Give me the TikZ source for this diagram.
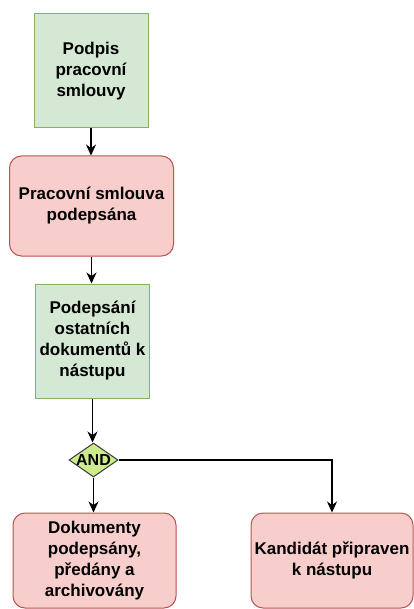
\documentclass[tikz,border=0pt]{standalone}
\usepackage{fontspec}
\setmainfont{Liberation Sans}
\usepackage{tikz}
\usetikzlibrary{arrows.meta,positioning,shapes.geometric}
\usepackage{xcolor}
\definecolor{taskfill}{HTML}{D5E8D4}
\definecolor{taskline}{HTML}{82B366}
\definecolor{eventfill}{HTML}{F8CECC}
\definecolor{eventline}{HTML}{B85450}
\definecolor{gatefill}{HTML}{CDEB8B}
\definecolor{gateline}{HTML}{36393D}

\tikzset{
  txt/.style={font=\bfseries\fontsize{17}{21}\selectfont, align=center, text=black},
  task/.style={txt, draw=taskline, fill=taskfill, line width=1pt, inner sep=0pt},
  event/.style={txt, draw=eventline, fill=eventfill, line width=1pt, rounded corners=12pt, inner sep=0pt},
  gate/.style={diamond, draw=gateline, fill=gatefill, line width=1pt, inner sep=0pt,
    shape aspect=1.44, minimum width=49pt, minimum height=34pt},
  flow/.style={line width=1.3pt, -{Stealth[length=11pt,width=10pt,inset=3.5pt]}}
}

\begin{document}
\begin{tikzpicture}[x=1pt,y=-1pt]
    \useasboundingbox (0,0) rectangle (414,609);
    % column of tasks and events
    \node[task, minimum width=114pt, minimum height=114pt] (podpis) at (91,71) {Podpis\\pracovní\\smlouvy};
    \node[event, minimum width=164pt, minimum height=100pt] (smlouva) at (91.5,206) {Pracovní smlouva\\podepsána};
    \node[task, minimum width=114pt, minimum height=114pt] (ostatni) at (92.5,341) {Podepsání\\ostatních\\dokumentů k\\nástupu};
    \node[gate] (and) at (93.5,460) {};
    \node[font=\bfseries\fontsize{16}{18}\selectfont, inner sep=0pt] (andtxt) at (and.center) {AND};
    % end events
    \node[event, minimum width=163pt, minimum height=95pt] (archiv) at (94.5,560.5) {Dokumenty\\podepsány,\\předány a\\archivovány};
    \node[event, minimum width=162pt, minimum height=95pt] (kandidat) at (332,560.5) {Kandidát připraven\\k nástupu};
    % flows
    \draw[flow] (podpis) -- (podpis |- smlouva.north);
    \draw[flow] (smlouva) -- (smlouva |- ostatni.north);
    \draw[flow] (ostatni) -- (ostatni |- and.north);
    \draw[flow] (and) -- (and |- archiv.north);
    \draw[flow] (and.east) -| (kandidat.north);
\end{tikzpicture}
\end{document}
